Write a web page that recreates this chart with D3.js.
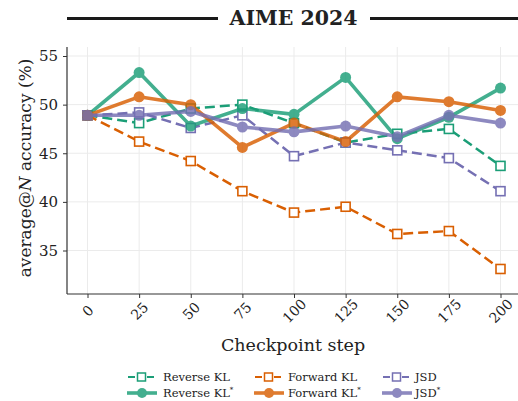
<!DOCTYPE html>
<html>
<head>
  <script src="https://d3js.org/d3.v7.min.js"></script>
  <style>
    body { margin: 0; background: #fff; }
    text { font-family: "DejaVu Serif", serif; fill: #222; }
  </style>
</head>
<body>
<script>
var width = 518, height = 401;

var steps = [0, 25, 50, 75, 100, 125, 150, 175, 200];
var yTicks = [35, 40, 45, 50, 55];

var reverseKL     = [48.9, 48.1, 49.6, 50.0, 48.1, 46.1, 47.0, 47.5, 43.7];
var reverseKLStar = [48.9, 53.3, 47.8, 49.6, 49.0, 52.8, 46.5, 48.7, 51.7];
var forwardKL     = [48.9, 46.2, 44.2, 41.1, 38.9, 39.5, 36.7, 37.0, 33.1];
var forwardKLStar = [48.9, 50.8, 50.0, 45.6, 48.1, 46.2, 50.8, 50.3, 49.4];
var jsd           = [48.9, 49.2, 47.6, 48.9, 44.7, 46.1, 45.3, 44.5, 41.1];
var jsdStar       = [48.9, 48.9, 49.3, 47.7, 47.2, 47.8, 46.7, 48.9, 48.1];

var series = [
  {name: "Reverse KL", values: reverseKL, color: "#1b9e77", star: false},
  {name: "Forward KL", values: forwardKL, color: "#d95f02", star: false},
  {name: "JSD", values: jsd, color: "#7570b3", star: false},
  {name: "Reverse KL", values: reverseKLStar, color: "#1b9e77", star: true},
  {name: "Forward KL", values: forwardKLStar, color: "#d95f02", star: true},
  {name: "JSD", values: jsdStar, color: "#7570b3", star: true}
];

var plot = {left: 67, right: 518, top: 47, bottom: 294};

var x = d3.scaleLinear().domain([0, 200]).range([87.5, 500.5]);
var y = d3.scaleLinear().domain([35, 55]).range([250.5, 56]);

var svg = d3.select("body").append("svg").attr("width", width).attr("height", height);

// title with rules
svg.append("text").attr("x", 293.5).attr("y", 25).attr("text-anchor", "middle")
  .attr("font-size", 20.5).attr("font-weight", "bold").text("AIME 2024");
svg.append("line").attr("x1", 67).attr("x2", 218).attr("y1", 18.5).attr("y2", 18.5)
  .attr("stroke", "#1a1a1a").attr("stroke-width", 3);
svg.append("line").attr("x1", 370).attr("x2", 518).attr("y1", 18.5).attr("y2", 18.5)
  .attr("stroke", "#1a1a1a").attr("stroke-width", 3);

// grid
svg.append("g").selectAll("line").data(steps).enter().append("line")
  .attr("x1", d => x(d)).attr("x2", d => x(d))
  .attr("y1", plot.top).attr("y2", plot.bottom)
  .attr("stroke", "#ebebeb").attr("stroke-width", 1);
svg.append("g").selectAll("line").data(yTicks).enter().append("line")
  .attr("x1", plot.left).attr("x2", plot.right)
  .attr("y1", d => y(d)).attr("y2", d => y(d))
  .attr("stroke", "#ebebeb").attr("stroke-width", 1);

// axes
var xAxis = svg.append("g").attr("transform", "translate(0," + plot.bottom + ")")
  .call(d3.axisBottom(x).tickValues(steps).tickSize(4));
xAxis.select(".domain").attr("d", "M" + plot.left + ",0H" + plot.right).attr("stroke", "#333").attr("stroke-width", 1.2);
xAxis.selectAll(".tick line").attr("stroke", "#333");
xAxis.selectAll(".tick text").attr("font-size", 14)
  .attr("text-anchor", "middle").attr("y", 0).attr("dy", "0.35em")
  .attr("transform", "translate(0,17) rotate(-45)");

var yAxis = svg.append("g").attr("transform", "translate(" + plot.left + ",0)")
  .call(d3.axisLeft(y).tickValues(yTicks).tickSize(4).tickPadding(5));
yAxis.select(".domain").attr("d", "M0," + plot.top + "V" + plot.bottom).attr("stroke", "#333").attr("stroke-width", 1.2);
yAxis.selectAll(".tick line").attr("stroke", "#333");
yAxis.selectAll(".tick text").attr("font-size", 15);

svg.append("text").attr("x", 293).attr("y", 351).attr("text-anchor", "middle")
  .attr("font-size", 17.5).text("Checkpoint step");

var yl = svg.append("text").attr("transform", "translate(31,168) rotate(-90)")
  .attr("text-anchor", "middle").attr("font-size", 17);
yl.append("tspan").text("average@");
yl.append("tspan").attr("font-style", "italic").text("N");
yl.append("tspan").text(" accuracy (%)");

var line = d3.line().x((d, i) => x(steps[i])).y(d => y(d));

var g = svg.append("g");
series.forEach(function(s) {
  var grp = g.append("g").attr("opacity", s.star ? 0.82 : 1);
  grp.append("path").datum(s.values).attr("d", line).attr("fill", "none")
    .attr("stroke", s.color)
    .attr("stroke-width", s.star ? 3.6 : 2.5)
    .attr("stroke-dasharray", s.star ? null : "10,5");
  if (s.star) {
    grp.selectAll("circle").data(s.values).enter().append("circle")
      .attr("cx", (d, i) => x(steps[i])).attr("cy", d => y(d)).attr("r", 5.5)
      .attr("fill", s.color);
  } else {
    grp.selectAll("rect").data(s.values).enter().append("rect")
      .attr("x", (d, i) => x(steps[i]) - 4.5).attr("y", d => y(d) - 4.5)
      .attr("width", 9).attr("height", 9)
      .attr("fill", "#fff").attr("stroke", s.color).attr("stroke-width", 1.6);
  }
});

// legend
var legCols = [128, 255, 383];
var legText = [163, 288, 415];
var leg = svg.append("g");
series.forEach(function(s, k) {
  var col = k % 3, row = s.star ? 1 : 0;
  var lx = legCols[col], ly = 377 + row * 16;
  var lg = leg.append("g").attr("opacity", s.star ? 0.82 : 1);
  if (s.star) {
    lg.append("line").attr("x1", lx - 1).attr("x2", lx + 29).attr("y1", ly).attr("y2", ly)
      .attr("stroke", s.color).attr("stroke-width", 3.6);
    lg.append("circle").attr("cx", lx + 14).attr("cy", ly).attr("r", 5).attr("fill", s.color);
  } else {
    lg.append("line").attr("x1", lx).attr("x2", lx + 27).attr("y1", ly).attr("y2", ly)
      .attr("stroke", s.color).attr("stroke-width", 2.2).attr("stroke-dasharray", "7,2.5");
    lg.append("rect").attr("x", lx + 9.5).attr("y", ly - 4).attr("width", 8).attr("height", 8)
      .attr("fill", "#fff").attr("stroke", s.color).attr("stroke-width", 1.5);
  }
  var t = leg.append("text").attr("x", legText[col]).attr("y", ly + 4).attr("font-size", 11.5);
  t.append("tspan").text(s.name);
  if (s.star) t.append("tspan").attr("font-size", 7).attr("dy", -5).text("*");
});
</script>
</body>
</html>
